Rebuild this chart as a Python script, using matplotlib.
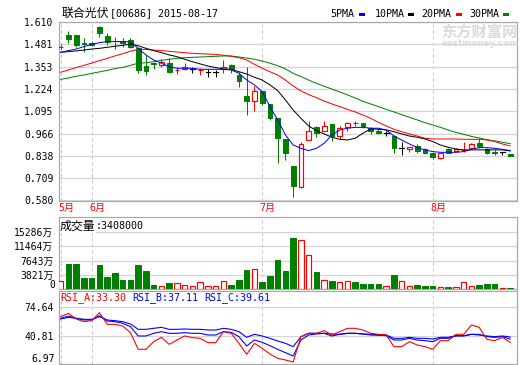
import matplotlib
matplotlib.use("Agg")
import matplotlib.pyplot as plt
import matplotlib.transforms as mtransforms
from matplotlib.patches import Rectangle

plt.rcParams['font.family'] = ['DejaVu Sans Mono', 'Noto Sans CJK SC']

W, H = 520, 365

stock_name = "联合光伏"
stock_info = "[00686] 2015-08-17"

opens = [1.466, 1.535, 1.535, 1.491, 1.487, 1.579, 1.529, 1.502, 1.502, 1.506,
         1.458, 1.356, 1.375, 1.362, 1.372, 1.331, 1.337, 1.337, 1.331, 1.323,
         1.323, 1.337, 1.362, 1.304, 1.183, 1.156, 1.212, 1.137, 1.054, 0.935,
         0.779, 0.656, 0.929, 1.002, 0.983, 1.022, 0.952, 1.002, 1.027, 1.025,
         0.996, 0.981, 0.972, 0.952, 0.881, 0.879, 0.895, 0.875, 0.852, 0.823,
         0.875, 0.868, 0.870, 0.881, 0.914, 0.875, 0.862, 0.862, 0.846]
highs = [1.483, 1.558, 1.535, 1.516, 1.502, 1.589, 1.545, 1.525, 1.516, 1.516,
         1.468, 1.420, 1.377, 1.395, 1.400, 1.352, 1.372, 1.352, 1.343, 1.337,
         1.333, 1.391, 1.368, 1.323, 1.352, 1.241, 1.212, 1.137, 1.054, 0.935,
         0.779, 0.920, 1.039, 1.010, 1.039, 1.022, 1.010, 1.035, 1.039, 1.025,
         1.002, 0.996, 0.981, 0.958, 0.920, 0.891, 0.906, 0.881, 0.856, 0.852,
         0.881, 0.881, 0.920, 0.914, 0.939, 0.885, 0.871, 0.862, 0.846]
lows = [1.452, 1.487, 1.464, 1.439, 1.471, 1.525, 1.477, 1.452, 1.464, 1.458,
        1.314, 1.304, 1.337, 1.348, 1.314, 1.308, 1.333, 1.314, 1.304, 1.291,
        1.291, 1.318, 1.318, 1.237, 1.073, 1.098, 1.131, 1.045, 0.795, 0.814,
        0.598, 0.650, 0.929, 0.945, 0.983, 0.925, 0.933, 0.983, 1.010, 0.996,
        0.964, 0.964, 0.952, 0.852, 0.843, 0.862, 0.856, 0.846, 0.818, 0.818,
        0.852, 0.862, 0.862, 0.875, 0.881, 0.848, 0.843, 0.840, 0.838]
closes = [1.468, 1.510, 1.477, 1.483, 1.479, 1.548, 1.497, 1.498, 1.491, 1.464,
          1.333, 1.327, 1.368, 1.381, 1.320, 1.333, 1.352, 1.337, 1.333, 1.323,
          1.323, 1.352, 1.337, 1.270, 1.156, 1.212, 1.145, 1.054, 0.939, 0.852,
          0.666, 0.904, 0.981, 0.972, 1.010, 0.952, 0.996, 1.025, 1.025, 1.010,
          0.983, 0.972, 0.972, 0.881, 0.881, 0.891, 0.868, 0.856, 0.829, 0.852,
          0.856, 0.875, 0.872, 0.904, 0.895, 0.856, 0.852, 0.862, 0.838]

volume_wan = [2248, 6832, 6653, 3057, 3057, 6383, 3326, 4405, 2517, 2517,
              6563, 4945, 1169, 899, 1708, 1618, 1079, 899, 1888, 899,
              899, 2158, 1169, 2517, 5214, 5394, 1978, 3596, 7911, 4945,
              13575, 13215, 9170, 4675, 2427, 2248, 1888, 2158, 1978, 1438,
              1259, 1438, 809, 3866, 2158, 809, 1169, 899, 899, 539,
              629, 629, 1888, 899, 1169, 1438, 1438, 360, 341]

ma5 = [1.435, 1.445, 1.454, 1.468, 1.481, 1.491, 1.497, 1.497, 1.497, 1.495,
       1.458, 1.420, 1.391, 1.372, 1.352, 1.343, 1.343, 1.343, 1.337, 1.337,
       1.337, 1.337, 1.333, 1.314, 1.275, 1.247, 1.208, 1.122, 1.045, 0.958,
       0.900, 0.881, 0.868, 0.881, 0.910, 0.958, 0.987, 0.997, 1.002, 1.002,
       0.997, 0.997, 0.987, 0.952, 0.929, 0.906, 0.885, 0.872, 0.862, 0.858,
       0.858, 0.858, 0.862, 0.875, 0.885, 0.885, 0.881, 0.875, 0.868]
ma10 = [1.435, 1.439, 1.443, 1.448, 1.454, 1.458, 1.464, 1.470, 1.475, 1.483,
        1.473, 1.458, 1.445, 1.433, 1.420, 1.410, 1.395, 1.381, 1.368, 1.356,
        1.347, 1.339, 1.337, 1.323, 1.310, 1.291, 1.275, 1.247, 1.214, 1.160,
        1.102, 1.054, 1.010, 0.983, 0.964, 0.945, 0.933, 0.929, 0.939, 0.968,
        0.993, 0.991, 0.987, 0.977, 0.964, 0.952, 0.945, 0.935, 0.920, 0.900,
        0.887, 0.877, 0.872, 0.872, 0.872, 0.872, 0.872, 0.872, 0.866]
ma20 = [1.320, 1.333, 1.347, 1.360, 1.373, 1.387, 1.400, 1.414, 1.427, 1.441,
        1.452, 1.452, 1.448, 1.445, 1.441, 1.437, 1.433, 1.429, 1.427, 1.425,
        1.423, 1.418, 1.412, 1.404, 1.391, 1.366, 1.343, 1.323, 1.304, 1.275,
        1.241, 1.212, 1.191, 1.173, 1.154, 1.137, 1.122, 1.106, 1.091, 1.073,
        1.054, 1.031, 1.010, 0.991, 0.977, 0.964, 0.952, 0.939, 0.935, 0.935,
        0.935, 0.935, 0.933, 0.933, 0.933, 0.929, 0.920, 0.906, 0.895]
ma30 = [1.279, 1.287, 1.297, 1.304, 1.314, 1.322, 1.331, 1.341, 1.348, 1.360,
        1.372, 1.375, 1.381, 1.389, 1.395, 1.400, 1.404, 1.406, 1.408, 1.410,
        1.412, 1.414, 1.414, 1.408, 1.402, 1.395, 1.385, 1.372, 1.358, 1.339,
        1.314, 1.295, 1.275, 1.256, 1.239, 1.223, 1.206, 1.189, 1.172, 1.152,
        1.137, 1.122, 1.106, 1.091, 1.075, 1.060, 1.045, 1.029, 1.016, 1.002,
        0.987, 0.973, 0.962, 0.950, 0.941, 0.931, 0.924, 0.916, 0.908]

rsi_a = [63.37, 67.25, 60.64, 57.53, 58.70, 68.03, 54.42, 54.42, 52.48, 44.70,
         25.26, 25.26, 34.20, 39.26, 31.09, 36.15, 40.82, 38.87, 38.09, 33.04,
         33.04, 45.87, 43.93, 32.26, 19.43, 32.26, 26.43, 19.82, 14.77, 12.82,
         10.49, 40.04, 43.93, 43.93, 47.04, 41.98, 45.87, 49.76, 49.76, 47.81,
         43.93, 42.76, 41.98, 28.37, 28.37, 34.20, 30.32, 28.37, 25.26, 35.37,
         35.37, 42.76, 42.76, 53.65, 50.92, 36.93, 35.37, 39.26, 33.30]
rsi_b = [61.42, 64.14, 61.42, 59.48, 59.48, 64.53, 58.31, 57.53, 55.59, 51.70,
         40.82, 40.82, 43.93, 45.87, 43.93, 43.93, 44.70, 43.93, 43.93, 41.98,
         41.98, 45.87, 45.09, 40.04, 29.15, 36.15, 33.43, 29.54, 25.26, 21.37,
         17.49, 36.15, 41.98, 43.15, 43.93, 40.82, 42.76, 43.93, 43.93, 43.15,
         41.98, 41.59, 41.20, 36.15, 36.15, 38.09, 36.15, 35.37, 34.20, 38.09,
         38.09, 40.82, 40.82, 42.76, 42.76, 40.04, 39.26, 40.04, 37.11]
rsi_c = [60.64, 62.59, 61.42, 60.26, 60.26, 63.37, 59.48, 58.70, 57.53, 54.81,
         48.59, 48.59, 49.76, 50.92, 48.59, 48.59, 48.98, 48.59, 48.59, 47.81,
         47.81, 49.76, 48.59, 45.87, 39.26, 42.76, 40.82, 38.09, 34.98, 32.26,
         28.37, 40.04, 43.93, 43.93, 43.93, 43.15, 42.76, 43.93, 43.93, 43.15,
         42.76, 42.37, 41.98, 38.09, 38.09, 39.26, 38.09, 38.09, 37.31, 39.26,
         39.26, 41.20, 41.20, 42.76, 41.98, 40.82, 40.04, 40.82, 39.61]

price_ticks = [0.580, 0.709, 0.838, 0.966, 1.095, 1.224, 1.353, 1.481, 1.610]
volume_ticks = [0, 3821, 7643, 11464, 15286]
rsi_ticks = [40.81, 74.64]
rsi_bottom_label = 6.97
month_labels = ["5月", "6月", "7月", "8月"]
month_start_idx = [0, 4, 26, 48]
last_volume = 3408000
ma_names = ["5PMA", "10PMA", "20PMA", "30PMA"]

RED = "#ff0000"
GREEN = "#008000"
BLUE = "#0000ff"
BLACK = "#000000"
GRID = "#d4d4d4"
BORDER = "#a8a8a8"
PX = 0.72  # one pixel in points

fig = plt.figure(figsize=(W / 100, H / 100), dpi=100)
fig.patch.set_facecolor("white")


def rect(left, top, right, bottom):
    return [left / W, 1 - bottom / H, (right - left) / W, (bottom - top) / H]


def fx(x):
    return x / W


def fy(y):
    return 1 - y / H


ax_p = fig.add_axes(rect(59, 22, 517, 201))
ax_v = fig.add_axes(rect(59, 217, 517, 289))
ax_r = fig.add_axes(rect(59, 291, 517, 364))

n = len(closes)
xs = list(range(n))
xlim = (-0.22, 58.88)

for ax in (ax_p, ax_v, ax_r):
    ax.set_xlim(*xlim)
    for s in ax.spines.values():
        s.set_color(BORDER)
        s.set_linewidth(1.2 * PX)
    ax.tick_params(axis="both", length=0, labelsize=7, pad=4, colors=BLACK)
    ax.set_xticks([])
    ax.yaxis.grid(True, color=GRID, linewidth=1.2 * PX)
    ax.set_axisbelow(True)
    for idx in month_start_idx:
        ax.axvline(idx, color="#c4c4c4", linewidth=1 * PX, linestyle=(0, (3, 3)), zorder=0.5)

# ---------------- price panel ----------------
ax_p.set_ylim(0.577, 1.610)
ax_p.set_yticks(price_ticks)
ax_p.set_yticklabels([f"{t:.3f}" for t in price_ticks])

bw = 0.62
for i in xs:
    o, h, l, c = opens[i], highs[i], lows[i], closes[i]
    if c > o:
        col = RED
        ax_p.plot([i, i], [c, h], color=col, lw=1 * PX, zorder=3, solid_capstyle="butt")
        ax_p.plot([i, i], [l, o], color=col, lw=1 * PX, zorder=3, solid_capstyle="butt")
        ax_p.add_patch(Rectangle((i - bw / 2, o), bw, c - o, facecolor="white",
                                 edgecolor=col, linewidth=1.2 * PX, zorder=3))
    elif c < o:
        col = GREEN
        ax_p.plot([i, i], [l, h], color=col, lw=1 * PX, zorder=3, solid_capstyle="butt")
        ax_p.add_patch(Rectangle((i - bw / 2, c), bw, o - c, facecolor=col,
                                 edgecolor=col, linewidth=1 * PX, zorder=3))
    else:
        col = BLACK
        ax_p.plot([i, i], [l, h], color=col, lw=1 * PX, zorder=3, solid_capstyle="butt")
        ax_p.plot([i - bw / 2, i + bw / 2], [c, c], color=col, lw=1.2 * PX, zorder=3)

ax_p.plot(xs, ma30, color=GREEN, lw=1 * PX, zorder=4)
ax_p.plot(xs, ma20, color=RED, lw=1 * PX, zorder=4)
ax_p.plot(xs, ma10, color=BLACK, lw=1 * PX, zorder=4)
ax_p.plot(xs, ma5, color=BLUE, lw=1 * PX, zorder=4)

# month labels
trans_p = mtransforms.blended_transform_factory(ax_p.transData, ax_p.transAxes)
for lab, idx in zip(month_labels, month_start_idx):
    ax_p.text(idx - 0.33, -0.04, lab, transform=trans_p, color=RED, fontsize=7.2,
              ha="left", va="center", clip_on=False)

# ---------------- volume panel ----------------
ax_v.set_ylim(0, 15286 * 72 / 57)
ax_v.set_yticks(volume_ticks)
ax_v.set_yticklabels(["" if v == 0 else f"{v}万" for v in volume_ticks])
ax_v.text(-4 / 458, (289 - 285) / 72, "0", transform=ax_v.transAxes, fontsize=7,
          ha="right", va="center", clip_on=False)
vw = 0.7
for i in xs:
    v = volume_wan[i]
    if closes[i] >= opens[i]:
        ax_v.add_patch(Rectangle((i - vw / 2, 0), vw, v, facecolor="white",
                                 edgecolor=RED, linewidth=1.2 * PX, zorder=3))
    else:
        ax_v.add_patch(Rectangle((i - vw / 2, 0), vw, v, facecolor=GREEN,
                                 edgecolor=GREEN, linewidth=1 * PX, zorder=3))

ax_v.text(0.002, 0.875, "成交量", transform=ax_v.transAxes, fontsize=8.6,
          ha="left", va="center", family=["Noto Sans CJK SC"],
          bbox=dict(facecolor="white", edgecolor="none", pad=0.3), zorder=5)
ax_v.text(0.081, 0.875, f":{last_volume}", transform=ax_v.transAxes, fontsize=7.2,
          ha="left", va="center",
          bbox=dict(facecolor="white", edgecolor="none", pad=0.3), zorder=5)

# ---------------- RSI panel ----------------
ax_r.set_ylim(8.14, 93.3)
ax_r.set_yticks(rsi_ticks)
ax_r.set_yticklabels([f"{t:.2f}" for t in rsi_ticks])
trans_r = mtransforms.blended_transform_factory(ax_r.transAxes, ax_r.transData)
ax_r.text(-4 / 458, 8.14, f"{rsi_bottom_label:.2f}", transform=trans_r, fontsize=7,
          ha="right", va="bottom", clip_on=False)
ax_r.plot(xs, rsi_c, color=BLUE, lw=1.1 * PX, zorder=3)
ax_r.plot(xs, rsi_b, color=BLUE, lw=1.1 * PX, zorder=3)
ax_r.plot(xs, rsi_a, color=RED, lw=1.1 * PX, zorder=4)
for txt, val, col, xpx in [("RSI_A", rsi_a[-1], RED, 60), ("RSI_B", rsi_b[-1], BLUE, 132.7),
                           ("RSI_C", rsi_c[-1], BLUE, 204)]:
    fig.text(fx(xpx), fy(297.5), f"{txt}:{val:.2f}", color=col, fontsize=7.2,
             ha="left", va="center")

# ---------------- header ----------------
fig.text(fx(62), fy(13.5), stock_name, fontsize=8.6, family=["Noto Sans CJK SC"],
         ha="left", va="center")
fig.text(fx(110), fy(13.5), stock_info, fontsize=7.2, ha="left", va="center")

legend_cols = [BLUE, BLACK, RED, GREEN]
legend_x = [330.7, 374.3, 421.7, 469.3]
for name, col, x0 in zip(ma_names, legend_cols, legend_x):
    fig.text(fx(x0), fy(14), name, fontsize=7.2, ha="left", va="center")
    wtxt = len(name) * 6.0
    fig.patches.append(Rectangle((fx(x0 + wtxt + 4), fy(15.5)), 6 / W, 3 / H,
                                 transform=fig.transFigure, facecolor=col,
                                 edgecolor="none", figure=fig))

# watermark
fig.text(fx(441), fy(32), "东方财富网", fontsize=11, color="#dadada", weight="bold",
         family=["Noto Sans CJK SC"], ha="left", va="center", zorder=0)
fig.text(fx(442), fy(43.5), "eastmoney.com", fontsize=6.3, color="#dadada",
         weight="bold", family=["DejaVu Sans"], ha="left", va="center", zorder=0)

fig.savefig("out.png", dpi=100, facecolor="white")
